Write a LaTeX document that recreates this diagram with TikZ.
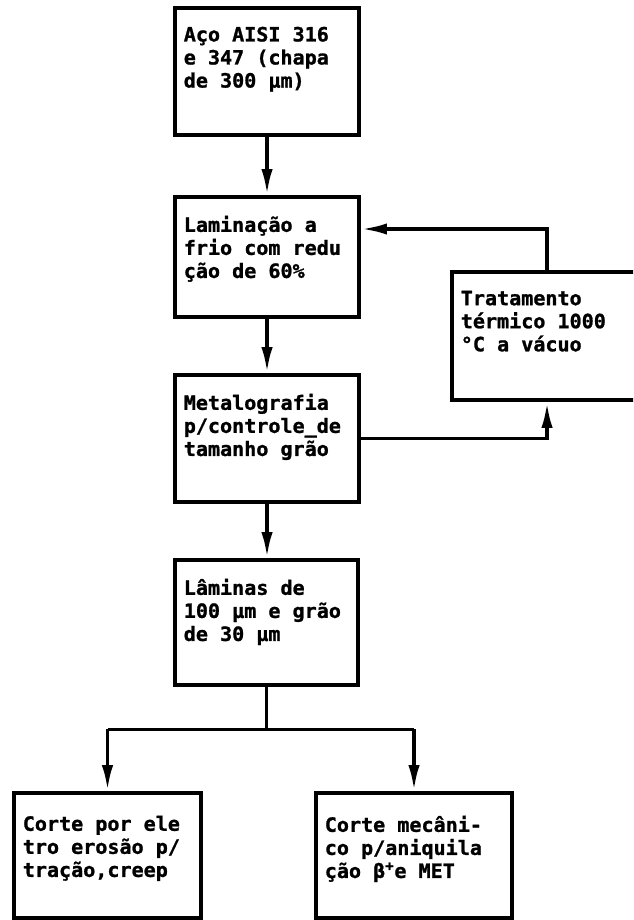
\documentclass[tikz,border=0pt]{standalone}
\usepackage{fontspec}
\newfontfamily\condfont[FakeStretch=1.02, FakeBold=1.2]{DejaVu Sans Mono}
\usetikzlibrary{arrows.meta,positioning,calc}

\tikzset{
  caixa/.style={draw, line width=3.5pt, inner sep=0pt, minimum width=4.6cm, minimum height=3.175cm},
  texto/.style={anchor=north west, align=left, inner sep=0pt, font={\condfont\bfseries\fontsize{14}{16.4}\selectfont}},
  linha/.style={line width=2.4pt},
  seta/.style={line width=2.4pt, -{Latex[length=18pt,width=8pt]}},
}

\begin{document}
\begin{tikzpicture}[x=0.025cm, y=-0.025cm]

\useasboundingbox (0,0) rectangle (633,920);
\clip (0,0) rectangle (633,920);

\def \margx {11}
\def \margy {21}

\node [caixa] (aco) at (267,71.5) {};
\node [caixa, minimum height=3cm] (lamin) at (267,257) {};
\node [caixa] (metal) at (267,438.5) {};
\node [caixa, minimum width=4.575cm, minimum height=3.125cm] (laminas) at (266.5,622.5) {};
\node [caixa, minimum width=4.75cm, minimum height=3.2cm] (trat) at (547,336) {};
\node [caixa, minimum width=4.675cm, minimum height=3.125cm] (corte1) at (107.5,855.5) {};
\node [caixa, minimum width=4.9cm, minimum height=3.125cm] (corte2) at (414,855.5) {};

\node [texto] (acot) at ($(aco.north west)+(\margx,\margy)$) {Aço AISI 316\\e 347 (chapa\\de 300 µm)};
\node [texto] (lamint) at ($(lamin.north west)+(\margx,\margy)$) {Laminação a\\frio com redu\\ção de 60\%};
\node [texto] (metalt) at ($(metal.north west)+(\margx,\margy)$) {Metalografia\\p/controle\_de\\tamanho grão};
\node [texto] (laminast) at ($(laminas.north west)+(\margx,\margy)$) {Lâminas de\\100 µm e grão\\de 30 µm};
\node [texto] (tratt) at ($(trat.north west)+(\margx,\margy)$) {Tratamento\\térmico 1000\\°C a vácuo};
\node [texto] (corte1t) at ($(corte1.north west)+(\margx,25)$) {Corte por ele\\tro erosão p/\\tração,creep};
\node [texto] (corte2t) at ($(corte2.north west)+(\margx,25)$) {Corte mecâni-\\co p/aniquila\\ção β\textsuperscript{+}e MET};

\draw [seta] (aco) -- (lamin);
\draw [seta] (lamin) -- (metal);
\draw [seta] (metal) -- (metal |- laminas.north);

\draw [seta] (metal.east) -| (trat.south);
\draw [seta] (trat.north) |- ($(lamin.east)+(0,-28)$);

\coordinate (ramo) at ($(laminas.south)+(0,42)$);
\draw [linha] (laminas.south) -- (ramo);
\draw [linha] (corte1.north |- ramo) -- (corte2.north |- ramo);
\draw [seta] (corte1.north |- ramo) -- (corte1.north);
\draw [seta] (corte2.north |- ramo) -- (corte2.north);

\end{tikzpicture}
\end{document}
